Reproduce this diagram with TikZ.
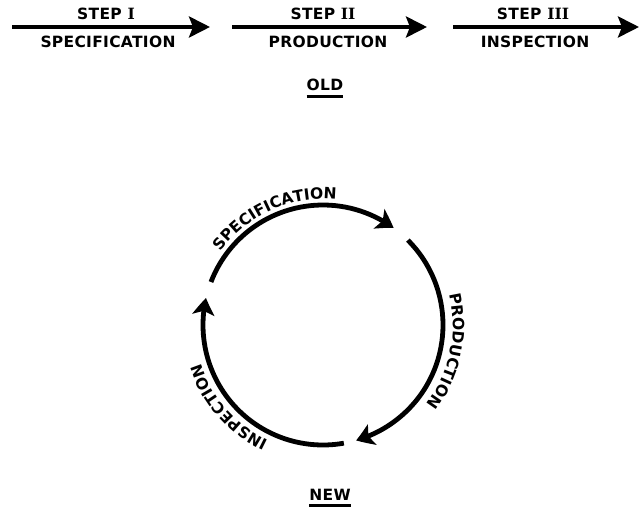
\documentclass[tikz,border=0pt]{standalone}
\usepackage{fontspec}
\newfontfamily\lettering{DejaVu Sans}[LetterSpace=2]
\newfontfamily\numeral{DejaVu Serif}
\usetikzlibrary{arrows.meta,bending,decorations.text}
\newcommand\cyctext{\lettering\bfseries\fontsize{15.5}{17}\selectfont}
\begin{document}
\begin{tikzpicture}[x=1pt,y=1pt,
  flowarrow/.style={line width=4pt,-{Stealth[length=21pt,width=21pt,inset=4pt]}},
  cyclearc/.style={line width=4.8pt,-{Stealth[length=17pt,width=22pt,inset=4pt,bend]}},
  lbl/.style={font=\cyctext, inner sep=0pt},
  uline/.style={line width=3pt},
  arctext/.style={decorate,decoration={text along path,text align=center,text={|\cyctext|#1}}}]
\useasboundingbox (0,0) rectangle (639,507);
% OLD: linear sequence
\coordinate (a1s) at (12,480);  \coordinate (a1e) at (210,480);
\coordinate (a2s) at (232,480); \coordinate (a2e) at (427,480);
\coordinate (a3s) at (453,480); \coordinate (a3e) at (639,480);
\draw[flowarrow] (a1s) -- (a1e);
\draw[flowarrow] (a2s) -- (a2e);
\draw[flowarrow] (a3s) -- (a3e);
\node[lbl] (st1) at (106,493) {STEP {\numeral\bfseries I}};
\node[lbl] (sp1) at (108,465) {SPECIFICATION};
\node[lbl] (st2) at (323,493) {STEP {\numeral\bfseries II}};
\node[lbl] (pr1) at (328,465) {PRODUCTION};
\node[lbl] (st3) at (533,493) {STEP {\numeral\bfseries III}};
\node[lbl] (in1) at (535,465) {INSPECTION};
\node[lbl] (old) at (325,422) {OLD};
\draw[uline] ([yshift=-5pt]old.south west) -- ([yshift=-5pt]old.south east);
% NEW: cycle
\coordinate (c) at (323,182);
\coordinate (specstart) at ([shift={(159:120)}]c);
\coordinate (prodstart) at ([shift={(45:120)}]c);
\coordinate (inspstart) at ([shift={(-80:120)}]c);
\draw[cyclearc] (specstart) arc[start angle=159,end angle=54,radius=120];
\draw[cyclearc] (prodstart) arc[start angle=45,end angle=-74,radius=120];
\draw[cyclearc] (inspstart) arc[start angle=-80,end angle=-193,radius=120];
\path[arctext=SPECIFICATION] ([shift={(180:126)}]c) arc[start angle=180,end angle=48,radius=126];
\path[arctext=PRODUCTION] ([shift={(40:130)}]c) arc[start angle=40,end angle=-64,radius=130];
\path[arctext=INSPECTION] ([shift={(-87:128)}]c) arc[start angle=-87,end angle=-191,radius=128];
\node[lbl] (new) at (330,12) {NEW};
\draw[uline] ([yshift=-5pt]new.south west) -- ([yshift=-5pt]new.south east);
\end{tikzpicture}
\end{document}
